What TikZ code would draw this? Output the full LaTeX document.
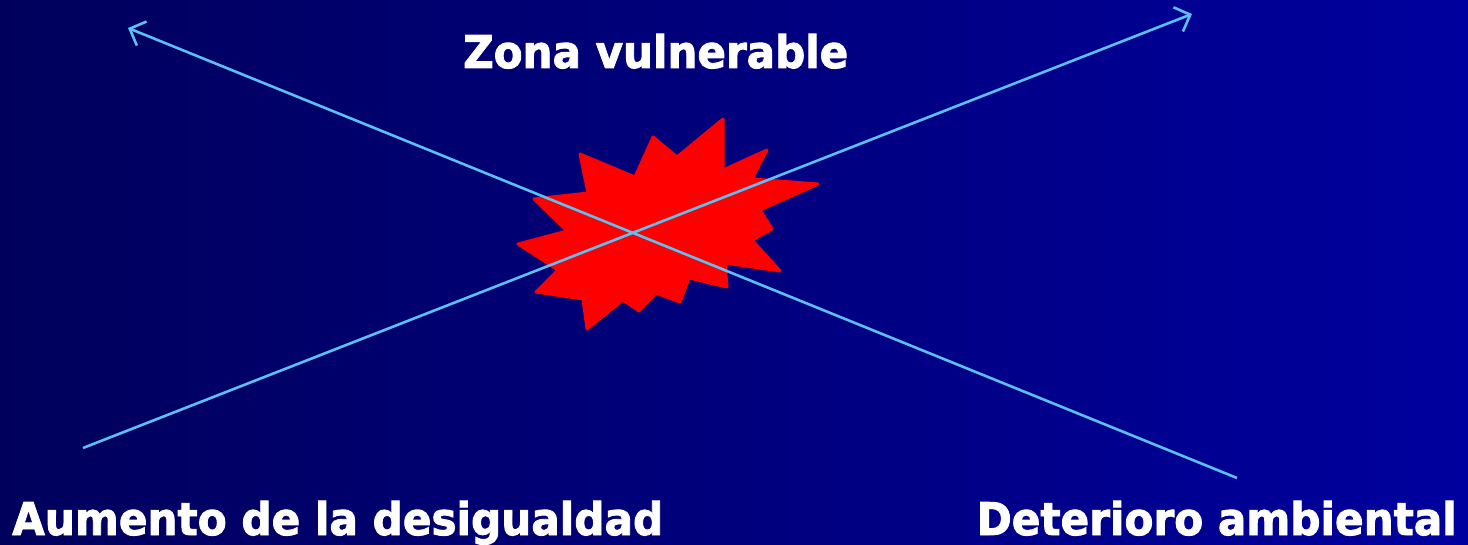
\documentclass[tikz,border=0pt]{standalone}
\usepackage{fontspec}
\usepackage{graphicx}
\setmainfont{DejaVu Sans}[BoldFeatures={FakeBold=2}]
\usetikzlibrary{arrows.meta}
\definecolor{bgleft}{RGB}{0,0,92}
\definecolor{bgright}{RGB}{0,0,158}
\definecolor{axis}{RGB}{92,192,246}
\definecolor{burst}{RGB}{255,0,0}
\tikzset{
  axisline/.style={draw=axis, line width=2.6pt, -{Straight Barb[length=13pt,width=26pt,line width=2.6pt]}},
  label/.style={text=white, inner sep=0pt, font=\bfseries\fontsize{45}{45}\selectfont},
  burstshape/.style={fill=burst, draw=burst, line width=3pt, line join=round}
}
\begin{document}
\begin{tikzpicture}[x=1pt,y=-1pt]
\useasboundingbox (0,0) rectangle (1468,545);
\shade[left color=bgleft, right color=bgright] (0,0) rectangle (1468,545);
% starburst
\path[burstshape] (723,119) -- (723,170) -- (767,150) -- (752,179) -- (818,184) -- (760,210)
  -- (772,229) -- (752,240) -- (780,271) -- (725,263) -- (727,287) -- (689,278)
  -- (680,302) -- (656,293) -- (639,311) -- (623,300) -- (587,329) -- (583,299)
  -- (536,292) -- (558,270) -- (518,244) -- (567,231) -- (534,199) -- (588,193)
  -- (580,154) -- (635,177) -- (653,137) -- (677,157) -- cycle;
% axes
\coordinate (ineqStart) at (83,448);
\coordinate (ineqEnd) at (1192,14);
\coordinate (envStart) at (1237,478);
\coordinate (envEnd) at (128,28);
\draw[axisline] (ineqStart) -- (ineqEnd);
\draw[axisline] (envStart) -- (envEnd);
% labels
\node[label, anchor=base west] (zona) at (463,68) {\resizebox{385pt}{\height}{Zona vulnerable}};
\node[label, anchor=base west] (aumento) at (12,535) {\resizebox{651pt}{\height}{Aumento de la desigualdad}};
\node[label, anchor=base east] (deterioro) at (1457,535) {\resizebox{480pt}{\height}{Deterioro ambiental}};
\end{tikzpicture}
\end{document}
